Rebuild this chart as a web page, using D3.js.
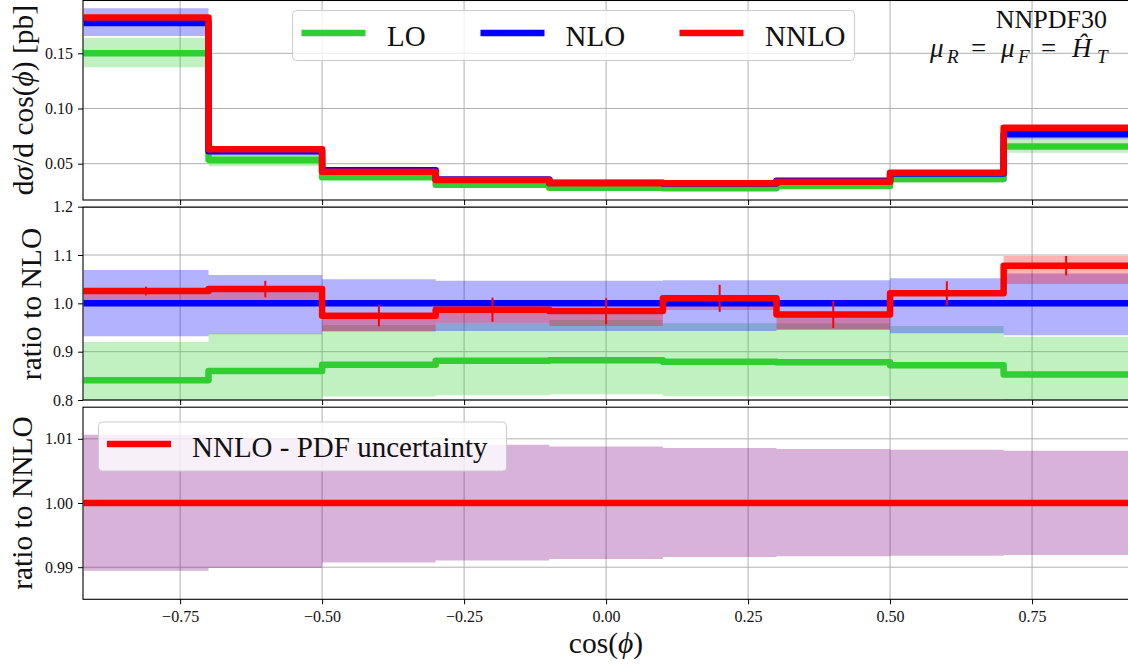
<!DOCTYPE html>
<html>
<head>
<meta charset="utf-8">
<script src="https://cdn.jsdelivr.net/npm/d3@7"></script>
<style>
  html, body { margin: 0; padding: 0; background: #fff; }
  svg { display: block; }
  text { font-family: "Liberation Serif", "DejaVu Serif", serif; fill: #111; }
</style>
</head>
<body>
<svg id="chart" width="1128" height="664"></svg>
<script>
// Bin edges in cos(phi)
const binEdges = [-0.92, -0.7, -0.5, -0.3, -0.1, 0.1, 0.3, 0.5, 0.7, 0.92];

// Differential cross section [pb], central values and scale-variation envelopes
const xsecLO       = [0.1500, 0.0535, 0.0377, 0.0310, 0.0282, 0.0278, 0.0298, 0.0362, 0.0655];
const xsecLOLow    = [0.1373, 0.0477, 0.0355, 0.0289, 0.0266, 0.0259, 0.0279, 0.0328, 0.0600];
const xsecLOHigh   = [0.1641, 0.0573, 0.0420, 0.0343, 0.0316, 0.0307, 0.0331, 0.0391, 0.0714];
const xsecNLO      = [0.1775, 0.0612, 0.0440, 0.0357, 0.0327, 0.0320, 0.0345, 0.0410, 0.0767];
const xsecNLOLow   = [0.1657, 0.0573, 0.0414, 0.0337, 0.0308, 0.0302, 0.0326, 0.0385, 0.0716];
const xsecNLOHigh  = [0.1908, 0.0648, 0.0462, 0.0374, 0.0342, 0.0335, 0.0362, 0.0431, 0.0815];
const xsecNNLO     = [0.1825, 0.0631, 0.0428, 0.0353, 0.0322, 0.0323, 0.0337, 0.0418, 0.0826];
const xsecNNLOLow  = [0.1787, 0.0616, 0.0415, 0.0343, 0.0312, 0.0316, 0.0327, 0.0416, 0.0798];
const xsecNNLOHigh = [0.1830, 0.0632, 0.0430, 0.0353, 0.0322, 0.0324, 0.0338, 0.0419, 0.0842];

// Ratios to NLO
const ratioLO       = [0.841, 0.860, 0.873, 0.881, 0.882, 0.879, 0.878, 0.872, 0.853];
const ratioLOLow    = [0.775, 0.785, 0.807, 0.810, 0.812, 0.808, 0.808, 0.801, 0.782];
const ratioLOHigh   = [0.920, 0.937, 0.955, 0.960, 0.9655, 0.9586, 0.9586, 0.953, 0.931];
const ratioNLO      = [1, 1, 1, 1, 1, 1, 1, 1, 1];
const ratioNLOLow   = [0.932, 0.936, 0.942, 0.943, 0.943, 0.943, 0.945, 0.938, 0.934];
const ratioNLOHigh  = [1.069, 1.0586, 1.050, 1.047, 1.047, 1.048, 1.048, 1.052, 1.062];
const ratioNNLO     = [1.0255, 1.0296, 0.9744, 0.9868, 0.984, 1.0103, 0.977, 1.0207, 1.078];
const ratioNNLOLow  = [1.007, 1.007, 0.9426, 0.960, 0.953, 0.986, 0.947, 1.015, 1.040];
const ratioNNLOHigh = [1.030, 1.032, 0.978, 0.990, 0.987, 1.013, 0.980, 1.024, 1.098];
const ratioNNLOErr  = [0.009, 0.017, 0.022, 0.025, 0.027, 0.028, 0.028, 0.025, 0.020];

// NNLO PDF uncertainty, ratio to NNLO
const pdfCentral = [1, 1, 1, 1, 1, 1, 1, 1, 1];
const pdfLow     = [0.98945, 0.98988, 0.99075, 0.99106, 0.99128, 0.99159, 0.99169, 0.99179, 0.99190];
const pdfHigh    = [1.01064, 1.01010, 1.00925, 1.00908, 1.00882, 1.00857, 1.00841, 1.00830, 1.00815];

// Tick values
const xTicks      = [-0.75, -0.5, -0.25, 0, 0.25, 0.5, 0.75];
const yTicksTop   = [0.05, 0.10, 0.15];
const yTicksMid   = [0.8, 0.9, 1.0, 1.1, 1.2];
const yTicksBot   = [0.99, 1.00, 1.01];

const colLO = "#32cd32", colNLO = "#0000ff", colNNLO = "#ff0000", colPDF = "#800080";

const svg = d3.select("#chart");
svg.append("rect").attr("width", 1128).attr("height", 664).attr("fill", "#fff");

const x = d3.scaleLinear().domain([-0.921, 0.92]).range([83, 1128.6]);
const plotL = x.range()[0], plotR = x.range()[1];

const panels = [
  { id: "top", y: d3.scaleLinear().domain([0.0171, 0.1983]).range([200, 0]), ticks: yTicksTop, fmt: d3.format(".2f") },
  { id: "mid", y: d3.scaleLinear().domain([0.8, 1.2]).range([400, 206.7]), ticks: yTicksMid, fmt: d3.format(".1f") },
  { id: "bot", y: d3.scaleLinear().domain([0.985, 1.015]).range([599.3, 406.7]), ticks: yTicksBot, fmt: d3.format(".2f") }
];

// step helpers: each value holds across its bin
const stepPts = vals => binEdges.map((e, i) => [e, vals[Math.min(i, vals.length - 1)]]);
const stepBand = (lo, hi) => binEdges.map((e, i) => {
  const k = Math.min(i, lo.length - 1);
  return [e, lo[k], hi[k]];
});

panels.forEach(p => {
  const y = p.y;
  const [yB, yT] = y.range();
  const g = svg.append("g");

  svg.append("clipPath").attr("id", "clip-" + p.id)
    .append("rect").attr("x", plotL).attr("y", yT).attr("width", plotR - plotL).attr("height", yB - yT);

  // grid
  const grid = g.append("g").attr("stroke", "#b0b0b0").attr("stroke-width", 1);
  xTicks.forEach(t => grid.append("line").attr("x1", x(t)).attr("x2", x(t)).attr("y1", yT).attr("y2", yB));
  p.ticks.forEach(t => grid.append("line").attr("x1", plotL).attr("x2", plotR).attr("y1", y(t)).attr("y2", y(t)));

  p.g = g.append("g").attr("clip-path", "url(#clip-" + p.id + ")");
  p.line = d3.line().x(d => x(d[0])).y(d => y(d[1])).curve(d3.curveStepAfter);
  p.area = d3.area().x(d => x(d[0])).y0(d => y(d[1])).y1(d => y(d[2])).curve(d3.curveStepAfter);
});

function drawBand(p, lo, hi, col, op) {
  p.g.append("path").attr("d", p.area(stepBand(lo, hi))).attr("fill", col).attr("fill-opacity", op);
}
function drawStep(p, vals, col, w) {
  p.g.append("path").attr("d", p.line(stepPts(vals))).attr("fill", "none")
    .attr("stroke", col).attr("stroke-width", w).attr("stroke-linejoin", "round");
}

// top: cross sections
const [pTop, pMid, pBot] = panels;
drawBand(pTop, xsecLOLow, xsecLOHigh, colLO, 0.3);
drawBand(pTop, xsecNLOLow, xsecNLOHigh, colNLO, 0.3);
drawBand(pTop, xsecNNLOLow, xsecNNLOHigh, colNNLO, 0.3);
drawStep(pTop, xsecLO, colLO, 6.5);
drawStep(pTop, xsecNLO, colNLO, 6.5);
drawStep(pTop, xsecNNLO, colNNLO, 6.5);

// middle: ratios to NLO
drawBand(pMid, ratioLOLow, ratioLOHigh, colLO, 0.3);
drawBand(pMid, ratioNLOLow, ratioNLOHigh, colNLO, 0.3);
drawBand(pMid, ratioNNLOLow, ratioNNLOHigh, colNNLO, 0.3);
drawStep(pMid, ratioLO, colLO, 6.5);
drawStep(pMid, ratioNLO, colNLO, 6.5);
drawStep(pMid, ratioNNLO, colNNLO, 6.5);
const centres = binEdges.slice(0, -1).map((e, i) => (e + binEdges[i + 1]) / 2);
pMid.g.append("g").selectAll("line").data(centres).join("line")
  .attr("x1", d => x(d)).attr("x2", d => x(d))
  .attr("y1", (d, i) => pMid.y(ratioNNLO[i] - ratioNNLOErr[i]))
  .attr("y2", (d, i) => pMid.y(ratioNNLO[i] + ratioNNLOErr[i]))
  .attr("stroke", colNNLO).attr("stroke-width", 2);

// bottom: PDF uncertainty
drawBand(pBot, pdfLow, pdfHigh, colPDF, 0.3);
drawStep(pBot, pdfCentral, colNNLO, 6.5);

// axes and spines
panels.forEach((p, idx) => {
  const y = p.y;
  const [yB, yT] = y.range();
  const ax = svg.append("g");
  ax.append("g").attr("transform", `translate(${plotL},0)`)
    .call(d3.axisLeft(y).tickValues(p.ticks).tickFormat(p.fmt).tickSizeInner(5).tickSizeOuter(0).tickPadding(5))
    .call(s => s.select(".domain").remove())
    .call(s => s.selectAll("line").attr("stroke", "#000").attr("stroke-width", 1))
    .call(s => s.selectAll("text").attr("font-size", 16).attr("fill", "#111")
      .style("font-family", '"Liberation Serif", "DejaVu Serif", serif'));
  const xa = d3.axisBottom(x).tickValues(xTicks).tickSizeInner(5).tickSizeOuter(0).tickPadding(6)
    .tickFormat(idx === 2 ? d3.format(".2f") : () => "");
  ax.append("g").attr("transform", `translate(0,${yB})`).call(xa)
    .call(s => s.select(".domain").remove())
    .call(s => s.selectAll("line").attr("stroke", "#000").attr("stroke-width", 1))
    .call(s => s.selectAll("text").attr("font-size", 16).attr("fill", "#111")
      .style("font-family", '"Liberation Serif", "DejaVu Serif", serif'));
  ax.append("rect").attr("x", plotL).attr("y", yT + 0.5).attr("width", plotR - plotL + 20).attr("height", yB - yT - 0.5)
    .attr("fill", "none").attr("stroke", "#000").attr("stroke-width", 1.1);
});

// axis titles
const lab = svg.append("g").attr("font-size", 29.5);
const t1 = lab.append("text").attr("transform", "translate(33,100) rotate(-90)").attr("text-anchor", "middle");
t1.append("tspan").text("d");
t1.append("tspan").attr("font-style", "italic").text("σ");
t1.append("tspan").text("/d cos(");
t1.append("tspan").attr("font-style", "italic").text("ϕ");
t1.append("tspan").text(") [pb]");
lab.append("text").attr("transform", "translate(41,304) rotate(-90)").attr("text-anchor", "middle").text("ratio to NLO");
lab.append("text").attr("transform", "translate(32,503) rotate(-90)").attr("text-anchor", "middle").text("ratio to NNLO");
const xl = lab.append("text").attr("x", 606).attr("y", 653).attr("text-anchor", "middle");
xl.append("tspan").text("cos(");
xl.append("tspan").attr("font-style", "italic").text("ϕ");
xl.append("tspan").text(")");

// legends
function legend(x0, y0, w, h, items) {
  const lg = svg.append("g");
  lg.append("rect").attr("x", x0).attr("y", y0).attr("width", w).attr("height", h).attr("rx", 4)
    .attr("fill", "#fff").attr("fill-opacity", 0.8).attr("stroke", "#cccccc").attr("stroke-width", 1);
  items.forEach(it => {
    lg.append("line").attr("x1", it.lx).attr("x2", it.lx + 64).attr("y1", y0 + h / 2 - 2.5).attr("y2", y0 + h / 2 - 2.5)
      .attr("stroke", it.col).attr("stroke-width", 6.5);
    lg.append("text").attr("x", it.tx).attr("y", y0 + h / 2 + 10).attr("font-size", 29).text(it.label);
  });
}
legend(292.5, 10.5, 562, 50, [
  { label: "LO", col: colLO, lx: 301.5, tx: 387 },
  { label: "NLO", col: colNLO, lx: 480.5, tx: 565.5 },
  { label: "NNLO", col: colNNLO, lx: 679.5, tx: 765 }
]);
legend(98.5, 422, 408, 49, [
  { label: "NNLO - PDF uncertainty", col: colNNLO, lx: 107, tx: 192 }
]);

// setup annotation
const ann = svg.append("g").attr("font-size", 26);
ann.append("text").attr("x", 1107).attr("y", 28).attr("text-anchor", "end").text("NNPDF30");
const mathParts = [
  { t: "μ", x: 930, y: 57, it: true, fs: 27 },
  { t: "R", x: 947, y: 63, it: true, fs: 19 },
  { t: "=", x: 971, y: 57, it: false, fs: 27 },
  { t: "μ", x: 1001, y: 57, it: true, fs: 27 },
  { t: "F", x: 1018, y: 63, it: true, fs: 19 },
  { t: "=", x: 1041, y: 57, it: false, fs: 27 },
  { t: "Ĥ", x: 1072, y: 57, it: true, fs: 27 },
  { t: "T", x: 1097, y: 63, it: true, fs: 19 }
];
mathParts.forEach(m => ann.append("text").attr("x", m.x).attr("y", m.y).attr("font-size", m.fs)
  .attr("font-style", m.it ? "italic" : "normal").text(m.t));
</script>
</body>
</html>
